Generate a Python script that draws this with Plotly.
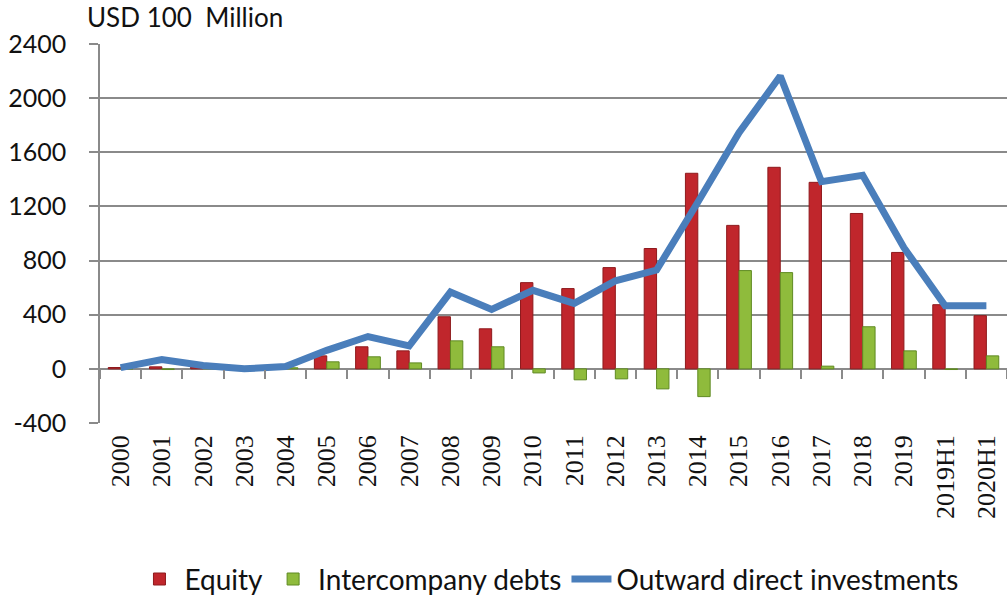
import plotly.graph_objects as go

# China outward direct investment, USD 100 million
periods = ["2000", "2001", "2002", "2003", "2004", "2005", "2006", "2007", "2008",
           "2009", "2010", "2011", "2012", "2013", "2014", "2015", "2016", "2017",
           "2018", "2019", "2019H1", "2020H1"]
equity = [10, 15, 15, 0, 10, 96, 163, 133, 385, 296, 637, 593, 748, 889, 1445,
          1060, 1489, 1378, 1148, 860, 474, 393]
intercompany_debts = [0, -5, 10, 0, 8, 52, 89, 44, 207, 163, -30, -81, -74, -148,
                      -205, 726, 711, 20, 311, 133, -5, 96]
outward_direct = [9, 69, 25, 0, 18, 137, 239, 170, 567, 439, 580, 484, 650, 730,
                  1231, 1744, 2164, 1383, 1430, 895, 466, 466]

y_ticks = [-400, 0, 400, 800, 1200, 1600, 2000, 2400]
y_tick_text = ["-400", "0", "400", "800", "1200", "1600", "2000", "2400"]

GRID = "#8a8a8a"
SANS = "Lato, Open Sans, sans-serif"

fig = go.Figure()
fig.add_trace(go.Bar(
    x=periods, y=equity, name="Equity",
    marker=dict(color="#c0262c", line=dict(color="#8e1a1d", width=1)),
))
fig.add_trace(go.Bar(
    x=periods, y=intercompany_debts, name="Intercompany debts",
    marker=dict(color="#8fbb3c", line=dict(color="#5f8a22", width=1)),
))
# the line sits on the second category axis, which draws the ticks on the zero line
fig.add_trace(go.Scatter(
    x=periods, y=outward_direct, name="Outward direct investments",
    xaxis="x2", mode="lines", line=dict(color="#4a7ebb", width=7),
))

cat_range = [-0.5, len(periods) - 0.5]
zero_pos = (0 - y_ticks[0]) / (y_ticks[-1] - y_ticks[0])

fig.update_layout(
    width=1007, height=596,
    margin=dict(l=100, r=0, t=44, b=173, autoexpand=False),
    paper_bgcolor="white", plot_bgcolor="white",
    barmode="group", bargap=0.4, bargroupgap=0,
    font=dict(family=SANS, color="#1a1a1a"),
    xaxis=dict(
        type="category", categoryorder="array", categoryarray=periods,
        range=cat_range, showgrid=False, showline=False, ticks="",
        tickangle=-90, ticklabelstandoff=6,
        tickfont=dict(family="Liberation Serif, Times New Roman, serif", size=26,
                      color="#111111"),
    ),
    xaxis2=dict(
        type="category", categoryorder="array", categoryarray=periods,
        range=cat_range, overlaying="x", anchor="free", position=zero_pos,
        side="bottom", showgrid=False, showline=False, showticklabels=False,
        ticks="outside", ticklen=9, tickwidth=1.5, tickcolor=GRID,
        tickson="boundaries",
    ),
    yaxis=dict(
        range=[y_ticks[0], y_ticks[-1]], tickvals=y_ticks, ticktext=y_tick_text,
        showgrid=True, gridcolor=GRID, gridwidth=1.5,
        zeroline=True, zerolinecolor=GRID, zerolinewidth=1.5,
        showline=True, linecolor=GRID, linewidth=1.5,
        ticks="outside", ticklen=9, tickwidth=1.5, tickcolor=GRID,
        ticklabelstandoff=18,
        tickfont=dict(family=SANS, size=25, color="#111111"),
    ),
    legend=dict(
        orientation="h", x=0.038, xanchor="left",
        yref="container", y=0.028, yanchor="middle",
        font=dict(family=SANS, size=28, color="#111111"),
        itemwidth=40, tracegroupgap=0,
    ),
    annotations=[dict(
        text="USD 100\u00a0 Million", xref="paper", yref="paper",
        x=-0.017, y=1.07, xanchor="left", yanchor="middle", showarrow=False,
        font=dict(family=SANS, size=26, color="#111111"),
    )],
)

fig.write_html("out.html")
